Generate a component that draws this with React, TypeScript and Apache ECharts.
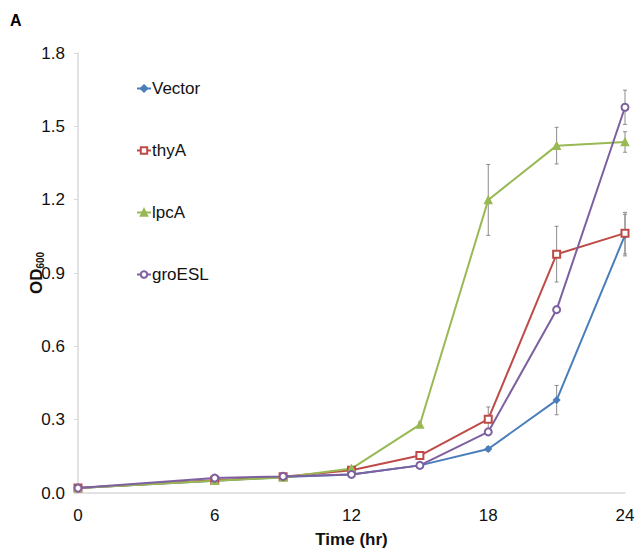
import React, { useEffect, useRef } from "react";
import * as echarts from "echarts";

const times = [0, 6, 9, 12, 15, 18, 21, 24];
const vector = [0.02, 0.05, 0.065, 0.076, 0.113, 0.18, 0.38, 1.055];
const thyA = [0.02, 0.052, 0.066, 0.093, 0.153, 0.302, 0.977, 1.063];
const lpcA = [0.02, 0.05, 0.063, 0.1, 0.28, 1.199, 1.421, 1.436];
const groESL = [0.02, 0.061, 0.068, 0.076, 0.113, 0.25, 0.75, 1.578];
const vectorErr = [0, 0, 0, 0, 0, 0.01, 0.06, 0.085];
const thyAErr = [0, 0, 0, 0, 0.01, 0.05, 0.114, 0.085];
const lpcAErr = [0, 0, 0, 0, 0.01, 0.145, 0.075, 0.042];
const groESLErr = [0, 0, 0, 0, 0, 0.01, 0.01, 0.07];
const yTicks = ["0.0", "0.3", "0.6", "0.9", "1.2", "1.5", "1.8"];

const seriesDefs = [
  { name: "Vector", values: vector, errs: vectorErr, color: "#4A7EBB", symbol: "diamond", size: 6 },
  { name: "thyA", values: thyA, errs: thyAErr, color: "#BE4B48", symbol: "emptyRect", size: 7 },
  { name: "lpcA", values: lpcA, errs: lpcAErr, color: "#98B954", symbol: "triangle", size: 7 },
  { name: "groESL", values: groESL, errs: groESLErr, color: "#7D60A0", symbol: "emptyCircle", size: 7 },
];

export default function App() {
  const ref = useRef<HTMLDivElement>(null);
  useEffect(() => {
    if (!ref.current) return;
    const chart = echarts.init(ref.current, undefined, { renderer: "svg" });
    const errSeries = seriesDefs.map((s) => ({
      type: "custom",
      name: s.name + " err",
      z: 1,
      silent: true,
      data: times.map((t, i) => [t, s.values[i] - s.errs[i], s.values[i] + s.errs[i]]).filter((d, i) => s.errs[i] > 0),
      renderItem: (params: any, api: any) => {
        const lo = api.coord([api.value(0), api.value(1)]);
        const hi = api.coord([api.value(0), api.value(2)]);
        const cw = 2;
        const style = { stroke: "#8C8C8C", lineWidth: 1 };
        return {
          type: "group",
          children: [
            { type: "line", shape: { x1: lo[0], y1: lo[1], x2: hi[0], y2: hi[1] }, style },
            { type: "line", shape: { x1: lo[0] - cw, y1: lo[1], x2: lo[0] + cw, y2: lo[1] }, style },
            { type: "line", shape: { x1: hi[0] - cw, y1: hi[1], x2: hi[0] + cw, y2: hi[1] }, style },
          ],
        };
      },
    }));
    const lineSeries = seriesDefs.map((s) => ({
      type: "line",
      name: s.name,
      z: 3,
      data: times.map((t, i) => [t, s.values[i]]),
      symbol: s.symbol,
      symbolSize: s.size,
      showAllSymbol: true,
      lineStyle: { color: s.color, width: 2 },
      itemStyle: { color: s.color, borderColor: s.color, borderWidth: 1.5 },
    }));
    chart.setOption({
      animation: false,
      backgroundColor: "#ffffff",
      textStyle: { fontFamily: "Liberation Sans, Arial, sans-serif" },
      grid: { left: 78, right: 13, top: 53, bottom: 59, containLabel: false },
      legend: {
        data: seriesDefs.map((s) => s.name),
        orient: "vertical",
        left: 131,
        top: 74,
        itemGap: 43,
        itemWidth: 14,
        itemHeight: 8,
        textStyle: { fontSize: 17, color: "#111", lineHeight: 19, padding: [0, 0, 0, -4] },
      },
      xAxis: {
        type: "value",
        min: 0,
        max: 24,
        interval: 6,
        name: "Time (hr)",
        nameLocation: "middle",
        nameGap: 38,
        nameMoveOverlap: false,
        nameTextStyle: { fontSize: 17, fontWeight: "bold", color: "#111" },
        axisLine: { lineStyle: { color: "#D9D9D9", width: 1.5 } },
        axisTick: { show: false },
        axisLabel: { fontSize: 17, color: "#111", margin: 14 },
        splitLine: { show: false },
      },
      yAxis: {
        type: "value",
        min: 0,
        max: 1.8,
        interval: 0.3,
        name: "{b|OD}{s|600}",
        nameLocation: "middle",
        nameGap: 33,
        nameMoveOverlap: false,
        nameRotate: 90,
        nameTextStyle: {
          rich: {
            b: { fontSize: 17, fontWeight: "bold", color: "#111" },
            s: { fontSize: 10, fontWeight: "bold", color: "#111", verticalAlign: "bottom", padding: [8, 0, 0, 0] },
          },
        },
        axisLine: { show: true, lineStyle: { color: "#D9D9D9", width: 1.5 } },
        axisTick: { show: true, length: 4, lineStyle: { color: "#D9D9D9" } },
        axisLabel: {
          fontSize: 17,
          color: "#111",
          margin: 13,
          formatter: (v: number) => yTicks[Math.round(v / 0.3)] ?? v.toFixed(1),
        },
        splitLine: { show: false },
      },
      graphic: [
        { type: "text", left: 10, top: 12, style: { text: "A", fontSize: 16, fontWeight: "bold", fill: "#000", fontFamily: "Liberation Sans, Arial, sans-serif" } },
      ],
      series: [...errSeries, ...lineSeries],
    });
    return () => chart.dispose();
  }, []);
  return <div ref={ref} style={{ width: 638, height: 553, position: "absolute", left: 0, top: 0 }} />;
}
